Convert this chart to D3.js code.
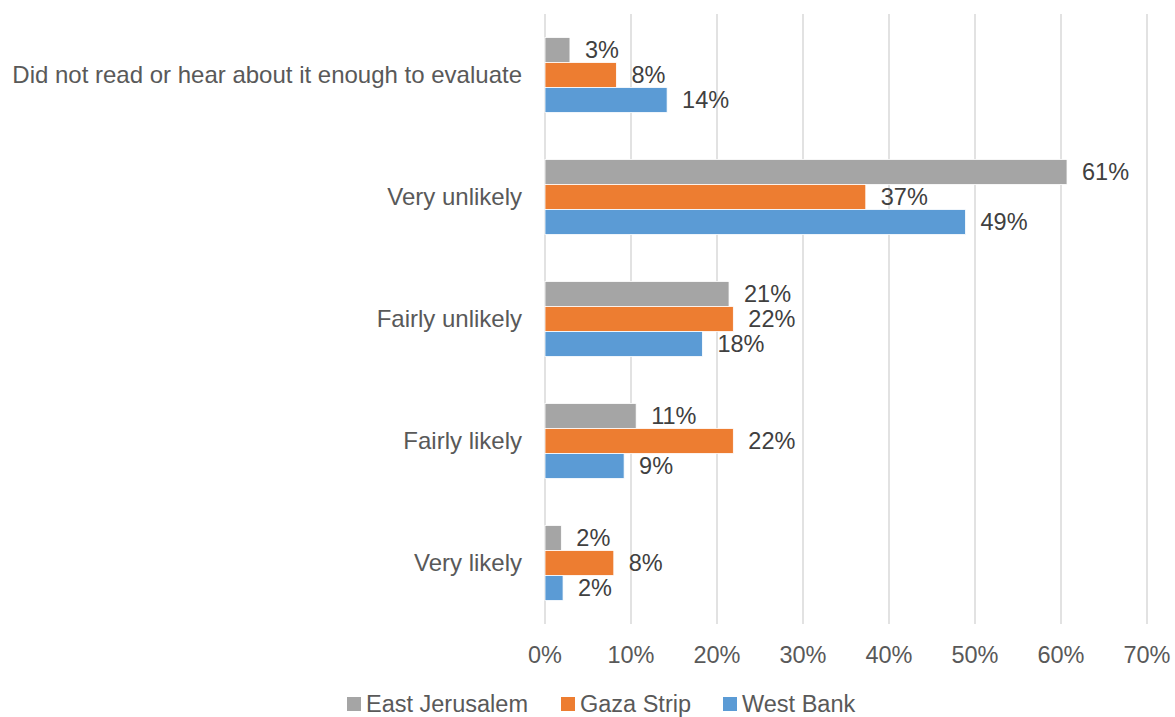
<!DOCTYPE html>
<html>
<head>
<meta charset="utf-8">
<script src="https://cdn.jsdelivr.net/npm/d3@7"></script>
<style>
  body { margin: 0; background: #fff; }
  text { font-family: "Liberation Sans", Arial, sans-serif; }
</style>
</head>
<body>
<div id="chart"></div>
<script>
// categories, top to bottom
const categories = [
    "Did not read or hear about it enough to evaluate",
    "Very unlikely",
    "Fairly unlikely",
    "Fairly likely",
    "Very likely"
];
const seriesNames = ["East Jerusalem", "Gaza Strip", "West Bank"];
const seriesColors = ["#a5a5a5", "#ed7d31", "#5b9bd5"];

// values per series, same order as categories (fractions)
const eastJerusalem = [0.029, 0.607, 0.214, 0.106, 0.019];
const gazaStrip     = [0.083, 0.373, 0.219, 0.219, 0.080];
const westBank      = [0.142, 0.489, 0.183, 0.092, 0.021];

const xTicks = [0, 0.1, 0.2, 0.3, 0.4, 0.5, 0.6, 0.7];

const width = 1175, height = 717;
const marginTop = 14, marginBottom = 93, marginLeft = 545, marginRight = 28;
const fontSize = 23.5;

const series = [eastJerusalem, gazaStrip, westBank];

const svg = d3.select("#chart").append("svg")
    .attr("width", width)
    .attr("height", height);

const x = d3.scaleLinear()
    .domain([0, 0.7])
    .range([marginLeft, width - marginRight]);

const y = d3.scaleBand()
    .domain(categories)
    .range([marginTop, height - marginBottom]);

const barH = 25;
const fmt = d3.format(".0%");

// gridlines
svg.append("g")
    .selectAll("line")
    .data(xTicks)
    .join("line")
    .attr("x1", d => x(d)).attr("x2", d => x(d))
    .attr("y1", marginTop).attr("y2", height - marginBottom)
    .attr("stroke", "#d9d9d9")
    .attr("stroke-width", 1.5);

// x axis labels
svg.append("g")
    .selectAll("text")
    .data(xTicks)
    .join("text")
    .attr("x", d => x(d))
    .attr("y", 655)
    .attr("dy", "0.35em")
    .attr("text-anchor", "middle")
    .attr("font-size", fontSize)
    .attr("fill", "#595959")
    .text(d => fmt(d));

// category labels
svg.append("g")
    .selectAll("text")
    .data(categories)
    .join("text")
    .attr("x", 522)
    .attr("y", d => y(d) + y.bandwidth() / 2)
    .attr("dy", "0.35em")
    .attr("text-anchor", "end")
    .attr("font-size", 24)
    .attr("fill", "#595959")
    .text(d => d);

// bars + labels
series.forEach((vals, si) => {
    const g = svg.append("g");
    const yOff = c => y(c) + y.bandwidth() / 2 - 1.5 * barH + si * barH;
    g.selectAll("rect")
        .data(categories)
        .join("rect")
        .attr("x", x(0))
        .attr("y", c => yOff(c))
        .attr("width", (c, i) => x(vals[i]) - x(0))
        .attr("height", barH)
        .attr("fill", seriesColors[si])
        .attr("stroke", "#fff")
        .attr("stroke-width", 0.8);
    g.selectAll("text")
        .data(categories)
        .join("text")
        .attr("x", (c, i) => x(vals[i]) + 15)
        .attr("y", c => yOff(c) + barH / 2)
        .attr("dy", "0.35em")
        .attr("font-size", fontSize)
        .attr("fill", "#404040")
        .text((c, i) => fmt(vals[i]));
});

// legend
const legendX = [347, 561, 723];
const legend = svg.append("g")
    .selectAll("g")
    .data(seriesNames)
    .join("g")
    .attr("transform", (d, i) => `translate(${legendX[i]},704)`);
legend.append("rect")
    .attr("x", 0).attr("y", -7)
    .attr("width", 14).attr("height", 14)
    .attr("fill", (d, i) => seriesColors[i]);
legend.append("text")
    .attr("x", 19)
    .attr("dy", "0.35em")
    .attr("font-size", fontSize)
    .attr("fill", "#595959")
    .text(d => d);
</script>
</body>
</html>
